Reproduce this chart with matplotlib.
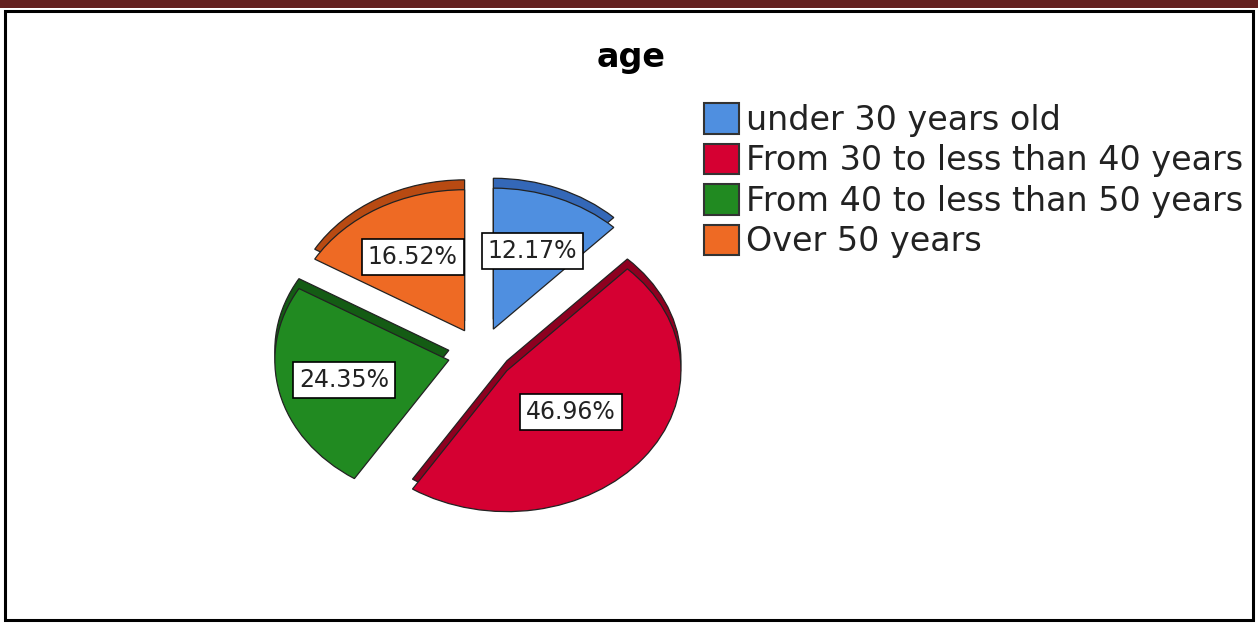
import numpy as np
import matplotlib.pyplot as plt
from matplotlib.patches import Rectangle

labels = ["under 30 years old", "From 30 to less than 40 years",
          "From 40 to less than 50 years", "Over 50 years"]
shares = [12.17, 46.96, 24.35, 16.52]
colors = ["#4f8fe0", "#d50032", "#218a21", "#ee6a24"]
rims = ["#3468b8", "#8e0020", "#145c14", "#b84a12"]
label_dist = [0.6, 0.47, 0.62, 0.6]

W, H = 1258, 623
fig = plt.figure(figsize=(W / 100, H / 100), dpi=100)

# page frame: dark red band on top, black box around the chart
fig.patches.append(Rectangle((0, 1 - 8 / H), 1, 8 / H, transform=fig.transFigure,
                             facecolor="#64201f", edgecolor="none"))
fig.patches.append(Rectangle((5 / W, 3 / H), 1 - 10 / W, 1 - 14 / H, transform=fig.transFigure,
                             facecolor="none", edgecolor="black", lw=2.2))

ax = fig.add_axes([231 / W, 69 / H, 500 / W, 400 / H])
ax.axis("off")

explode = [0.19] * len(shares)

# darker copy shifted up gives the 3D rim
ax.pie(shares, explode=explode, colors=rims, startangle=90, counterclock=False,
       center=(0, 0.07), wedgeprops=dict(edgecolor="#222222", lw=0.9))
wedges, texts, autotexts = ax.pie(
    shares, explode=explode, colors=colors, startangle=90, counterclock=False,
    autopct="%.2f%%", wedgeprops=dict(edgecolor="#222222", lw=0.9),
    textprops=dict(fontsize=17, color="#222222"))
for w, t, d in zip(wedges, autotexts, label_dist):
    mid = np.deg2rad((w.theta1 + w.theta2) / 2)
    cx, cy = w.center
    t.set_position((cx + d * np.cos(mid), cy + d * np.sin(mid)))
    t.set_bbox(dict(boxstyle="square,pad=0.25", facecolor="white", edgecolor="black", lw=1.2))
ax.set_xlim(-250 / 174, 250 / 174)
ax.set_ylim(-200 / 141, 200 / 141)
ax.set_aspect("auto")

fig.text(631 / W, 1 - 58 / H, "age", ha="center", va="center",
         fontsize=24, fontweight="bold")

leg = fig.legend(wedges, labels, loc="upper left",
                 bbox_to_anchor=(704 / W, 1 - 103 / H), frameon=False,
                 fontsize=24, handlelength=1.05, handleheight=1.05,
                 handletextpad=0.2, labelspacing=0.2, borderpad=0, borderaxespad=0)
for h in leg.legend_handles:
    h.set_edgecolor("#333333")
    h.set_linewidth(1.5)
for t in leg.get_texts():
    t.set_color("#222222")

fig.savefig("out.png", dpi=100)
